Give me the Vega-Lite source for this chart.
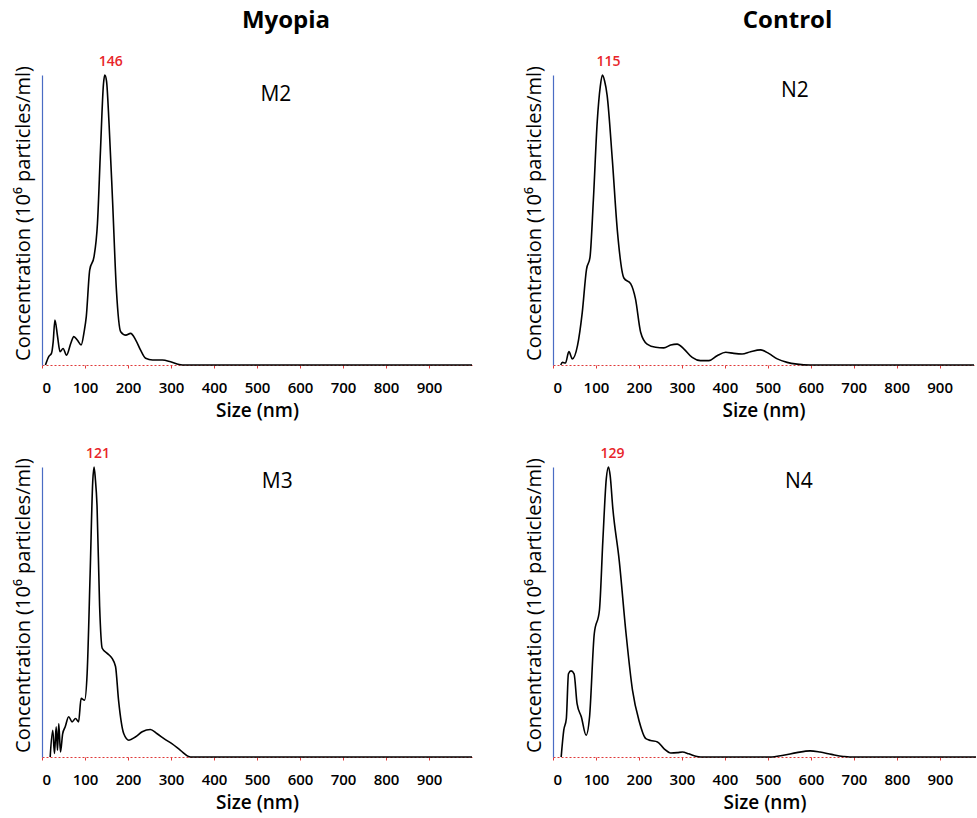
{
  "$schema": "https://vega.github.io/schema/vega-lite/v6.json",
  "padding": {"left": 12, "top": 9, "right": 0, "bottom": 12},
  "background": "white",
  "config": {
    "view": {"stroke": null},
    "font": "Open Sans",
    "axisX": {
      "grid": false,
      "domainColor": "#e03a3a",
      "domainDash": [2, 2],
      "domainWidth": 1.2,
      "tickColor": "#e03a3a",
      "tickSize": 3,
      "labelFont": "Open Sans",
      "labelFontSize": 15,
      "labelFontWeight": 600,
      "labelColor": "black",
      "labelPadding": 12,
      "titleFont": "Open Sans",
      "titleFontSize": 19,
      "titleFontWeight": 600,
      "titleColor": "black",
      "titlePadding": 6
    },
    "axisY": {
      "grid": false,
      "ticks": false,
      "labels": false,
      "domainColor": "#4a6cc4",
      "domainWidth": 1.2,
      "titleFont": "Open Sans",
      "titleFontSize": 20,
      "titleFontWeight": "normal",
      "titleColor": "black",
      "titlePadding": 9,
      "titleY": 138
    },
    "title": {"font": "Open Sans", "fontSize": 24, "fontWeight": "bold", "color": "black", "anchor": "middle", "frame": "group"}
  },
  "datasets": {
    "M2": [
      {"size": 8, "conc": 0}, {"size": 16, "conc": 3}, {"size": 22, "conc": 4}, {"size": 26, "conc": 8}, {"size": 30, "conc": 15.5},
      {"size": 36, "conc": 10}, {"size": 42, "conc": 4.6}, {"size": 49, "conc": 5.7}, {"size": 57, "conc": 3.4}, {"size": 67, "conc": 7.5},
      {"size": 74, "conc": 9.8}, {"size": 82, "conc": 8.6}, {"size": 91, "conc": 6.9}, {"size": 98, "conc": 11.5}, {"size": 103, "conc": 16.7},
      {"size": 111, "conc": 32.8}, {"size": 121, "conc": 37.4}, {"size": 129, "conc": 48.9}, {"size": 136, "conc": 74}, {"size": 143, "conc": 97},
      {"size": 146, "conc": 100}, {"size": 150, "conc": 98}, {"size": 156, "conc": 83}, {"size": 164, "conc": 57}, {"size": 173, "conc": 26},
      {"size": 183, "conc": 11.5}, {"size": 195, "conc": 10.3}, {"size": 206, "conc": 10.9}, {"size": 218, "conc": 8.6}, {"size": 229, "conc": 5.2},
      {"size": 241, "conc": 2.3}, {"size": 257, "conc": 1.7}, {"size": 280, "conc": 1.7}, {"size": 299, "conc": 1.1}, {"size": 319, "conc": 0.2},
      {"size": 334, "conc": 0}, {"size": 600, "conc": 0}, {"size": 1000, "conc": 0}
    ],
    "M3": [
      {"size": 19, "conc": 0}, {"size": 25, "conc": 9.2}, {"size": 29, "conc": 1.2}, {"size": 33, "conc": 10.4}, {"size": 36, "conc": 2.3},
      {"size": 39, "conc": 11.5}, {"size": 43, "conc": 1.7}, {"size": 48, "conc": 8}, {"size": 54, "conc": 10.4}, {"size": 62, "conc": 13.9},
      {"size": 70, "conc": 12.1}, {"size": 78, "conc": 13.3}, {"size": 85, "conc": 12.1}, {"size": 91, "conc": 20.2}, {"size": 99, "conc": 19.6},
      {"size": 105, "conc": 28.9}, {"size": 112, "conc": 63.5}, {"size": 118, "conc": 95}, {"size": 121, "conc": 100}, {"size": 124, "conc": 96},
      {"size": 128, "conc": 86.6}, {"size": 134, "conc": 52}, {"size": 140, "conc": 37.5}, {"size": 151, "conc": 35.8}, {"size": 163, "conc": 34},
      {"size": 171, "conc": 31.2}, {"size": 178, "conc": 19.6}, {"size": 190, "conc": 8.1}, {"size": 202, "conc": 5.8}, {"size": 217, "conc": 6.9},
      {"size": 233, "conc": 8.7}, {"size": 252, "conc": 9.5}, {"size": 267, "conc": 8.1}, {"size": 287, "conc": 6}, {"size": 302, "conc": 4.6},
      {"size": 322, "conc": 2.3}, {"size": 341, "conc": 0.2}, {"size": 349, "conc": 0}, {"size": 600, "conc": 0}, {"size": 1000, "conc": 0}
    ],
    "N2": [
      {"size": 18, "conc": 0}, {"size": 22, "conc": 0.9}, {"size": 29, "conc": 0.7}, {"size": 37, "conc": 4.6}, {"size": 45, "conc": 2.1},
      {"size": 57, "conc": 6.7}, {"size": 68, "conc": 18}, {"size": 78, "conc": 33}, {"size": 86, "conc": 37}, {"size": 94, "conc": 57},
      {"size": 103, "conc": 84}, {"size": 110, "conc": 96}, {"size": 115, "conc": 100}, {"size": 120, "conc": 98}, {"size": 126, "conc": 93},
      {"size": 138, "conc": 71}, {"size": 150, "conc": 46}, {"size": 165, "conc": 30}, {"size": 181, "conc": 28}, {"size": 192, "conc": 22.8},
      {"size": 204, "conc": 11.3}, {"size": 219, "conc": 7.2}, {"size": 239, "conc": 6.1}, {"size": 258, "conc": 5.9}, {"size": 274, "conc": 6.9},
      {"size": 289, "conc": 7.2}, {"size": 305, "conc": 5.5}, {"size": 324, "conc": 2.6}, {"size": 343, "conc": 1.5}, {"size": 363, "conc": 1.5},
      {"size": 382, "conc": 3.2}, {"size": 402, "conc": 4.4}, {"size": 421, "conc": 4}, {"size": 440, "conc": 3.8}, {"size": 460, "conc": 4.6},
      {"size": 483, "conc": 5.2}, {"size": 502, "conc": 4}, {"size": 522, "conc": 2.1}, {"size": 545, "conc": 0.9}, {"size": 568, "conc": 0.3},
      {"size": 599, "conc": 0}, {"size": 800, "conc": 0}, {"size": 980, "conc": 0}
    ],
    "N4": [
      {"size": 19, "conc": 0}, {"size": 25, "conc": 9.2}, {"size": 31, "conc": 13.2}, {"size": 36, "conc": 28.7}, {"size": 42, "conc": 29.7},
      {"size": 49, "conc": 28.7}, {"size": 56, "conc": 18.4}, {"size": 66, "conc": 13.8}, {"size": 77, "conc": 7.5}, {"size": 85, "conc": 13.8},
      {"size": 96, "conc": 42.5}, {"size": 108, "conc": 50.6}, {"size": 116, "conc": 74.7}, {"size": 124, "conc": 96}, {"size": 129, "conc": 100},
      {"size": 133, "conc": 97}, {"size": 139, "conc": 86}, {"size": 154, "conc": 67.8}, {"size": 170, "conc": 42.5}, {"size": 185, "conc": 23},
      {"size": 200, "conc": 12.6}, {"size": 216, "conc": 6.3}, {"size": 227, "conc": 5.7}, {"size": 243, "conc": 5.2}, {"size": 258, "conc": 2.9},
      {"size": 274, "conc": 1.4}, {"size": 289, "conc": 1.5}, {"size": 301, "conc": 1.7}, {"size": 316, "conc": 1.1}, {"size": 335, "conc": 0.2},
      {"size": 351, "conc": 0}, {"size": 505, "conc": 0}, {"size": 536, "conc": 0.6}, {"size": 567, "conc": 1.5}, {"size": 598, "conc": 2.1},
      {"size": 621, "conc": 1.7}, {"size": 648, "conc": 0.9}, {"size": 675, "conc": 0.2}, {"size": 690, "conc": 0}, {"size": 850, "conc": 0},
      {"size": 984, "conc": 0}
    ],
    "labels": [
      {"panel": "M2", "peak": 146}, {"panel": "N2", "peak": 115}, {"panel": "M3", "peak": 121}, {"panel": "N4", "peak": 129}
    ]
  },
  "bounds": "flush",
  "columns": 2,
  "spacing": {"row": 102, "column": 81},
  "concat": [
    {
      "width": 430, "height": 290,
      "title": {"text": "Myopia", "dx": 29, "offset": 22},
      "layer": [
        {"data": {"name": "M2"}, "mark": {"type": "line", "color": "black", "strokeWidth": 1.6, "interpolate": "monotone"},
         "encoding": {"x": {"field": "size", "type": "quantitative", "scale": {"domain": [0, 1000], "nice": false}, "axis": {"values": [0, 100, 200, 300, 400, 500, 600, 700, 800, 900], "title": "Size (nm)"}},
                      "y": {"field": "conc", "type": "quantitative", "scale": {"domain": [0, 100], "nice": false}, "axis": {"title": "Concentration (10⁶ particles/ml)"}}}},
        {"data": {"name": "labels"}, "transform": [{"filter": "datum.panel === 'M2'"}],
         "mark": {"type": "text", "color": "#e8252a", "fontSize": 14, "fontWeight": 600, "dy": -13, "dx": 6, "baseline": "middle"},
         "encoding": {"x": {"field": "peak", "type": "quantitative"}, "y": {"datum": 100}, "text": {"field": "peak"}}},
        {"data": {"name": "labels"}, "transform": [{"filter": "datum.panel === 'M2'"}],
         "mark": {"type": "text", "color": "black", "fontSize": 21, "baseline": "middle", "align": "center"},
         "encoding": {"x": {"datum": 544}, "y": {"datum": 93}, "text": {"field": "panel"}}}
      ]
    },
    {
      "width": 421, "height": 290,
      "title": {"text": "Control", "dx": 24, "offset": 22},
      "layer": [
        {"data": {"name": "N2"}, "mark": {"type": "line", "color": "black", "strokeWidth": 1.6, "interpolate": "monotone"},
         "encoding": {"x": {"field": "size", "type": "quantitative", "scale": {"domain": [0, 980], "nice": false}, "axis": {"values": [0, 100, 200, 300, 400, 500, 600, 700, 800, 900], "title": "Size (nm)"}},
                      "y": {"field": "conc", "type": "quantitative", "scale": {"domain": [0, 100], "nice": false}, "axis": {"title": "Concentration (10⁶ particles/ml)"}}}},
        {"data": {"name": "labels"}, "transform": [{"filter": "datum.panel === 'N2'"}],
         "mark": {"type": "text", "color": "#e8252a", "fontSize": 14, "fontWeight": 600, "dy": -13, "dx": 6, "baseline": "middle"},
         "encoding": {"x": {"field": "peak", "type": "quantitative"}, "y": {"datum": 100}, "text": {"field": "peak"}}},
        {"data": {"name": "labels"}, "transform": [{"filter": "datum.panel === 'N2'"}],
         "mark": {"type": "text", "color": "black", "fontSize": 21, "baseline": "middle", "align": "center"},
         "encoding": {"x": {"datum": 563}, "y": {"datum": 94.5}, "text": {"field": "panel"}}}
      ]
    },
    {
      "width": 430, "height": 290,
      "layer": [
        {"data": {"name": "M3"}, "mark": {"type": "line", "color": "black", "strokeWidth": 1.6, "interpolate": "monotone"},
         "encoding": {"x": {"field": "size", "type": "quantitative", "scale": {"domain": [0, 1000], "nice": false}, "axis": {"values": [0, 100, 200, 300, 400, 500, 600, 700, 800, 900], "title": "Size (nm)"}},
                      "y": {"field": "conc", "type": "quantitative", "scale": {"domain": [0, 100], "nice": false}, "axis": {"title": "Concentration (10⁶ particles/ml)"}}}},
        {"data": {"name": "labels"}, "transform": [{"filter": "datum.panel === 'M3'"}],
         "mark": {"type": "text", "color": "#e8252a", "fontSize": 14, "fontWeight": 600, "dy": -13, "dx": 4, "baseline": "middle"},
         "encoding": {"x": {"field": "peak", "type": "quantitative"}, "y": {"datum": 100}, "text": {"field": "peak"}}},
        {"data": {"name": "labels"}, "transform": [{"filter": "datum.panel === 'M3'"}],
         "mark": {"type": "text", "color": "black", "fontSize": 21, "baseline": "middle", "align": "center"},
         "encoding": {"x": {"datum": 547}, "y": {"datum": 94.8}, "text": {"field": "panel"}}}
      ]
    },
    {
      "width": 423, "height": 290,
      "layer": [
        {"data": {"name": "N4"}, "mark": {"type": "line", "color": "black", "strokeWidth": 1.6, "interpolate": "monotone"},
         "encoding": {"x": {"field": "size", "type": "quantitative", "scale": {"domain": [0, 984], "nice": false}, "axis": {"values": [0, 100, 200, 300, 400, 500, 600, 700, 800, 900], "title": "Size (nm)"}},
                      "y": {"field": "conc", "type": "quantitative", "scale": {"domain": [0, 100], "nice": false}, "axis": {"title": "Concentration (10⁶ particles/ml)"}}}},
        {"data": {"name": "labels"}, "transform": [{"filter": "datum.panel === 'N4'"}],
         "mark": {"type": "text", "color": "#e8252a", "fontSize": 14, "fontWeight": 600, "dy": -13, "dx": 4, "baseline": "middle"},
         "encoding": {"x": {"field": "peak", "type": "quantitative"}, "y": {"datum": 100}, "text": {"field": "peak"}}},
        {"data": {"name": "labels"}, "transform": [{"filter": "datum.panel === 'N4'"}],
         "mark": {"type": "text", "color": "black", "fontSize": 21, "baseline": "middle", "align": "center"},
         "encoding": {"x": {"datum": 572}, "y": {"datum": 94.8}, "text": {"field": "panel"}}}
      ]
    }
  ]
}
